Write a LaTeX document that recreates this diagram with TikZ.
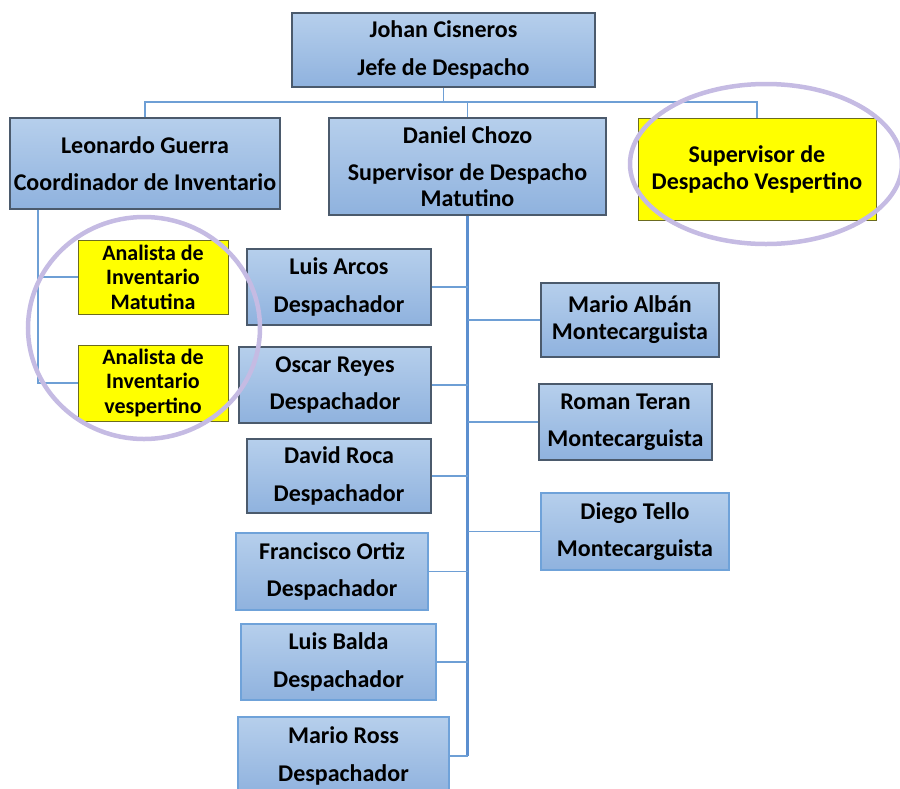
\documentclass[tikz,border=0pt]{standalone}
\usepackage{fontspec}
\setmainfont{Carlito}
\definecolor{bluetop}{HTML}{B6CFEC}
\definecolor{bluebot}{HTML}{8FB2DE}
\definecolor{darkedge}{HTML}{4B5A6C}
\definecolor{blueedge}{HTML}{6FA2D9}
\definecolor{linkblue}{HTML}{6E9FD5}
\definecolor{trunkblue}{HTML}{5C8FCF}
\definecolor{hiyellow}{HTML}{FFFF00}
\definecolor{yellowedge}{HTML}{6B6B20}
\definecolor{lavender}{HTML}{C5BBE3}
\begin{document}
\begin{tikzpicture}[x=1pt,y=-1pt,
  person/.style={draw=darkedge, line width=1.2pt, top color=bluetop, bottom color=bluebot,
    align=center, inner sep=0pt, font=\bfseries\fontsize{24}{37.5}\selectfont},
  softperson/.style={person, draw=blueedge},
  tightperson/.style={person, font=\bfseries\fontsize{24}{27}\selectfont},
  vacancy/.style={draw=yellowedge, line width=1pt, fill=hiyellow, align=center, inner sep=0pt,
    font=\bfseries\fontsize{24}{27}\selectfont},
  analyst/.style={vacancy, font=\bfseries\fontsize{22}{24.5}\selectfont},
  link/.style={draw=linkblue, line width=1.4pt},
  trunk/.style={draw=trunkblue, line width=2.4pt},
  circled/.style={draw=lavender, line width=4.5pt}]
\useasboundingbox (0,0) rectangle (900,788);

% head of the department
\node[person, minimum width=303pt, minimum height=74pt] (johan) at (443.5,50)
  {Johan Cisneros\\Jefe de Despacho};

% second level
\node[person, minimum width=270pt, minimum height=91pt] (leo) at (145,163.5)
  {Leonardo Guerra\\Coordinador de Inventario};
\node[person, minimum width=277pt, minimum height=97pt, font=\bfseries\fontsize{24}{26}\selectfont] (dan) at (467.5,166.5)
  {Daniel Chozo\\[11pt]Supervisor de Despacho\\Matutino};
\node[vacancy, minimum width=238pt, minimum height=102pt] (supv) at (757,169)
  {Supervisor de\\Despacho Vespertino};

% inventory analysts
\node[analyst, minimum width=150pt, minimum height=74pt] (ana1) at (153,277)
  {Analista de\\Inventario\\Matutina};
\node[analyst, minimum width=150pt, minimum height=76pt] (ana2) at (153,383)
  {Analista de\\Inventario\\vespertino};

% dispatchers
\node[person, minimum width=184pt, minimum height=76pt] (arcos) at (339,287)
  {Luis Arcos\\Despachador};
\node[person, minimum width=192pt, minimum height=76pt] (oscar) at (335,385)
  {Oscar Reyes\\Despachador};
\node[person, minimum width=184pt, minimum height=74pt] (david) at (339,476)
  {David Roca\\Despachador};
\node[softperson, minimum width=192pt, minimum height=77pt] (fran) at (332,571.5)
  {Francisco Ortiz\\Despachador};
\node[softperson, minimum width=195pt, minimum height=76pt] (balda) at (338.5,662)
  {Luis Balda\\Despachador};
\node[softperson, minimum width=211pt, minimum height=78pt] (ross) at (343.5,756)
  {Mario Ross\\Despachador};

% forklift operators
\node[tightperson, minimum width=178pt, minimum height=74pt] (alban) at (630,320)
  {Mario Albán\\Montecarguista};
\node[person, minimum width=173pt, minimum height=76pt] (teran) at (625.5,422)
  {Roman Teran\\Montecarguista};
\node[softperson, minimum width=188pt, minimum height=77pt] (tello) at (635,531.5)
  {Diego Tello\\Montecarguista};

% top bus
\coordinate (bus) at (0,102);
\draw[link] (johan.south) -- (johan.south |- bus);
\draw[link] (leo.north) |- (supv.north |- bus) -- (supv.north);
\draw[link] (dan.north |- bus) -- (dan.north);

% inventory branch
\coordinate (lt) at (38,0);
\draw[link] (lt |- leo.south) |- (ana2.west);
\draw[link] (lt |- ana1.west) -- (ana1.west);

% dispatch branch
\draw[trunk] (dan.south) -- (dan.south |- ross.east);
\foreach \n in {arcos,oscar,david,fran,balda,ross}
  \draw[link] (dan.south |- \n.east) -- (\n.east);
\foreach \n in {alban,teran,tello}
  \draw[link] (dan.south |- \n.west) -- (\n.west);

% highlight rings
\draw[circled] (144,328) ellipse [x radius=116, y radius=111];
\draw[circled] (766,164) ellipse [x radius=136, y radius=80];
\end{tikzpicture}
\end{document}
